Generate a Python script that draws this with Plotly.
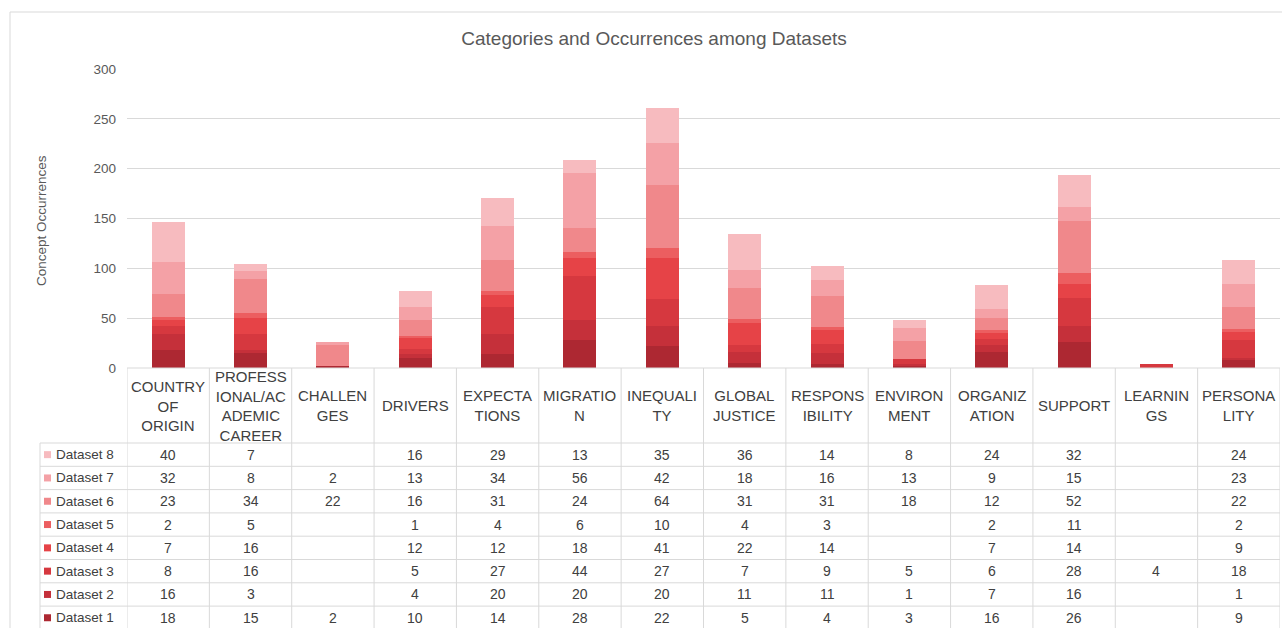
import plotly.graph_objects as go

W, H = 1282, 628

categories = ["COUNTRY<br>OF<br>ORIGIN", "PROFESS<br>IONAL/AC<br>ADEMIC<br>CAREER", "CHALLEN<br>GES",
              "DRIVERS", "EXPECTA<br>TIONS", "MIGRATIO<br>N", "INEQUALI<br>TY", "GLOBAL<br>JUSTICE",
              "RESPONS<br>IBILITY", "ENVIRON<br>MENT", "ORGANIZ<br>ATION", "SUPPORT", "LEARNIN<br>GS",
              "PERSONA<br>LITY"]

dataset_1 = [18, 15, 2, 10, 14, 28, 22, 5, 4, 3, 16, 26, None, 9]
dataset_2 = [16, 3, None, 4, 20, 20, 20, 11, 11, 1, 7, 16, None, 1]
dataset_3 = [8, 16, None, 5, 27, 44, 27, 7, 9, 5, 6, 28, 4, 18]
dataset_4 = [7, 16, None, 12, 12, 18, 41, 22, 14, None, 7, 14, None, 9]
dataset_5 = [2, 5, None, 1, 4, 6, 10, 4, 3, None, 2, 11, None, 2]
dataset_6 = [23, 34, 22, 16, 31, 24, 64, 31, 31, 18, 12, 52, None, 22]
dataset_7 = [32, 8, 2, 13, 34, 56, 42, 18, 16, 13, 9, 15, None, 23]
dataset_8 = [40, 7, None, 16, 29, 13, 35, 36, 14, 8, 24, 32, None, 24]

series_names = ["Dataset 1", "Dataset 2", "Dataset 3", "Dataset 4",
                "Dataset 5", "Dataset 6", "Dataset 7", "Dataset 8"]
series_values = [dataset_1, dataset_2, dataset_3, dataset_4,
                 dataset_5, dataset_6, dataset_7, dataset_8]
colors = ["#ad2832", "#c5303a", "#d6383f", "#e64347",
          "#ec5e60", "#f0888b", "#f4a1a6", "#f7bbbf"]

y_ticks = [0, 50, 100, 150, 200, 250, 300]

TEXT = "#595959"
CELL = "#404040"
GRID = "#d9d9d9"
FONT = "Liberation Sans, Arial, sans-serif"


def py(y):
    return 1 - y / H


def px(x):
    return x / W


n = len(categories)
xs = list(range(n))

fig = go.Figure()
for name, vals, col in zip(series_names, series_values, colors):
    fig.add_trace(go.Bar(x=xs, y=vals, name=name, marker=dict(color=col, line=dict(width=0)),
                         showlegend=False))

plot_top, plot_bot = 69, 368
x_left, x_right = 127, 1280
header_bot = 443
row_h = 23.3

shapes = []
annotations = []

# outer border
shapes.append(dict(type="line", xref="paper", yref="paper", x0=px(10), x1=1, y0=py(12), y1=py(12),
                   line=dict(color=GRID, width=1)))
shapes.append(dict(type="line", xref="paper", yref="paper", x0=px(10), x1=px(10), y0=py(12), y1=0,
                   line=dict(color=GRID, width=1)))

# table vertical lines (category columns)
for i in range(n + 1):
    shapes.append(dict(type="line", xref="x", yref="paper", x0=i - 0.5, x1=i - 0.5,
                       y0=py(plot_bot), y1=0, line=dict(color=GRID, width=1)))
# legend column left line
shapes.append(dict(type="line", xref="paper", yref="paper", x0=px(40), x1=px(40),
                   y0=py(header_bot), y1=0, line=dict(color=GRID, width=1)))
# top of table (category header)
shapes.append(dict(type="line", xref="x", yref="paper", x0=-0.5, x1=n - 0.5,
                   y0=py(plot_bot), y1=py(plot_bot), line=dict(color=GRID, width=1)))
# horizontal row lines
for r in range(len(series_names) + 1):
    yy = header_bot + r * row_h
    shapes.append(dict(type="line", xref="paper", yref="paper", x0=px(40), x1=px(x_right),
                       y0=py(yy), y1=py(yy), line=dict(color=GRID, width=1)))

# category header labels
for i, c in enumerate(categories):
    annotations.append(dict(x=i, y=py((plot_bot + header_bot) / 2), xref="x", yref="paper",
                            text=c, showarrow=False, xanchor="center", yanchor="middle",
                            font=dict(family=FONT, size=15, color=CELL)))

# data rows (Dataset 8 at top)
for r, idx in enumerate(range(len(series_names) - 1, -1, -1)):
    yc = header_bot + (r + 0.5) * row_h
    name = series_names[idx]
    shapes.append(dict(type="rect", xref="paper", yref="paper", x0=px(44), x1=px(51),
                       y0=py(yc + 3.5), y1=py(yc - 3.5), fillcolor=colors[idx],
                       line=dict(width=0)))
    annotations.append(dict(x=px(54), y=py(yc), xref="paper", yref="paper", text=name,
                            showarrow=False, xanchor="left", yanchor="middle",
                            font=dict(family=FONT, size=13.5, color=CELL)))
    for i, v in enumerate(series_values[idx]):
        if v is None:
            continue
        annotations.append(dict(x=i, y=py(yc), xref="x", yref="paper", text=str(v),
                                showarrow=False, xanchor="center", yanchor="middle",
                                font=dict(family=FONT, size=14, color=CELL)))

# y axis title
annotations.append(dict(x=px(41), y=py(221), xref="paper", yref="paper",
                        text="Concept Occurrences", textangle=-90, showarrow=False,
                        xanchor="center", yanchor="middle",
                        font=dict(family=FONT, size=13.5, color=TEXT)))

fig.update_layout(
    width=W, height=H,
    margin=dict(l=0, r=0, t=0, b=0, autoexpand=False),
    paper_bgcolor="white", plot_bgcolor="white",
    barmode="stack", bargap=0.6,
    title=dict(text="Categories and Occurrences among Datasets", x=654 / W, y=py(38),
               xanchor="center", yanchor="middle",
               font=dict(family=FONT, size=19, color=TEXT)),
    xaxis=dict(domain=[px(x_left), px(x_right)], range=[-0.5, n - 0.5],
               showticklabels=False, showgrid=False, zeroline=False, ticks=""),
    yaxis=dict(domain=[py(plot_bot), py(plot_top)], range=[0, 300], tickvals=y_ticks,
               showgrid=True, gridcolor=GRID, gridwidth=1, zeroline=False,
               tickfont=dict(family=FONT, size=13.5, color=TEXT), ticks="", ticklabelstandoff=10),
    shapes=shapes,
    annotations=annotations,
    font=dict(family=FONT),
)

fig.write_html("out.html")
